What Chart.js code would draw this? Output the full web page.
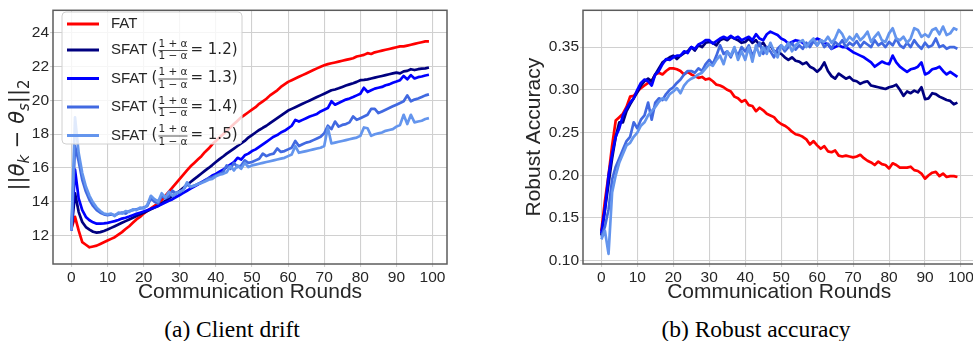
<!DOCTYPE html>
<html>
<head>
<meta charset="utf-8">
<script src="https://cdn.jsdelivr.net/npm/chart.js@4.4.1/dist/chart.umd.min.js"></script>
<style>
html, body { margin: 0; padding: 0; background: #fff; overflow: hidden; width: 973px; height: 341px; }
#drift { position: absolute; left: 0; top: 0; }
#acc { position: absolute; left: 490px; top: 0; }
.cap { position: absolute; top: 318px; width: 220px; text-align: center; font-family: 'Liberation Serif', 'Times New Roman', serif; font-size: 23.5px; line-height: 1; color: #000; white-space: nowrap; }
</style>
</head>
<body>
<canvas id="drift" width="470" height="305"></canvas>
<canvas id="acc" width="500" height="305"></canvas>
<div class="cap" style="left:122px">(a) Client drift</div>
<div class="cap" style="left:646px">(b) Robust accuracy</div>
<script>
// communication rounds 0..99
var rounds = [];
for (var r = 0; r < 100; r++) rounds.push(r);

var seriesNames = ['FAT', 'SFAT 1.2', 'SFAT 1.3', 'SFAT 1.4', 'SFAT 1.5'];
var ratios = [null, 1.2, 1.3, 1.4, 1.5];
var colors = ['#ff0000', '#000080', '#0000ff', '#4169e1', '#6495ed'];

var xTicks = [0, 10, 20, 30, 40, 50, 60, 70, 80, 90, 100];
var driftTicks = [12, 14, 16, 18, 20, 22, 24];
var accTicks = [0.10, 0.15, 0.20, 0.25, 0.30, 0.35];

// (a) client drift ||theta_k - theta_s||_2
var driftFAT = [
  12.4, 13.1, 12.3, 11.6, 11.45, 11.3, 11.35, 11.4, 11.5, 11.6,
  11.7, 11.8, 11.9, 12.05, 12.2, 12.38, 12.55, 12.75, 12.95, 13.1,
  13.3, 13.45, 13.6, 13.75, 13.9, 14.1, 14.35, 14.6, 14.85, 15.1,
  15.35, 15.6, 15.85, 16.1, 16.3, 16.5, 16.7, 16.95, 17.15, 17.4,
  17.6, 17.8, 18.0, 18.2, 18.4, 18.6, 18.8, 19.0, 19.15, 19.3,
  19.45, 19.6, 19.8, 19.95, 20.1, 20.3, 20.45, 20.6, 20.8, 20.95,
  21.1, 21.2, 21.3, 21.4, 21.5, 21.6, 21.7, 21.8, 21.9, 22.0,
  22.08, 22.15, 22.2, 22.25, 22.3, 22.35, 22.4, 22.45, 22.5, 22.6,
  22.65, 22.7, 22.8, 22.75, 22.85, 22.9, 22.95, 23.0, 23.05, 23.1,
  23.15, 23.2, 23.2, 23.25, 23.3, 23.35, 23.4, 23.45, 23.5, 23.5
];
var driftS12 = [
  12.3, 14.5, 13.4, 12.8, 12.5, 12.35, 12.22, 12.17, 12.2, 12.27,
  12.35, 12.45, 12.55, 12.65, 12.75, 12.85, 12.95, 13.05, 13.15, 13.25,
  13.35, 13.45, 13.55, 13.65, 13.75, 13.9, 14.05, 14.2, 14.35, 14.5,
  14.65, 14.82, 15.0, 15.17, 15.34, 15.5, 15.67, 15.84, 16.0, 16.17,
  16.35, 16.52, 16.68, 16.85, 17.0, 17.15, 17.3, 17.45, 17.6, 17.8,
  17.95, 18.1, 18.25, 18.38, 18.5, 18.65, 18.8, 18.95, 19.1, 19.25,
  19.4, 19.5, 19.6, 19.7, 19.8, 19.9, 20.0, 20.1, 20.2, 20.3,
  20.4, 20.5, 20.6, 20.65, 20.72, 20.8, 20.88, 20.95, 21.02, 21.1,
  21.2, 21.22, 21.25, 21.3, 21.35, 21.4, 21.45, 21.5, 21.55, 21.6,
  21.65, 21.6, 21.72, 21.75, 21.85, 21.8, 21.85, 21.88, 21.9, 21.95
];
var driftS13 = [
  12.3, 15.9, 14.2, 13.5, 13.1, 12.9, 12.78, 12.7, 12.7, 12.72,
  12.75, 12.8, 12.85, 12.92, 13.0, 13.05, 13.12, 13.2, 13.28, 13.35,
  13.42, 13.5, 13.58, 13.66, 13.75, 13.85, 13.95, 14.05, 14.15, 14.28,
  14.4, 14.52, 14.65, 14.78, 14.9, 15.02, 15.15, 15.28, 15.4, 15.55,
  15.65, 15.78, 15.9, 16.05, 16.2, 16.35, 16.6, 16.5, 16.75, 16.85,
  17.0, 17.1, 17.25, 17.4, 17.55, 17.7, 17.85, 17.95, 18.1, 18.2,
  18.35, 18.5, 18.85, 18.75, 18.85, 18.95, 19.05, 19.12, 19.2, 19.35,
  19.45, 19.55, 19.95, 19.75, 19.85, 19.95, 20.05, 20.12, 20.2, 20.3,
  20.4, 20.75, 20.5, 20.6, 20.7, 20.75, 20.8, 20.9, 20.95, 21.05,
  21.12, 21.2, 21.45, 21.25, 21.5, 21.3, 21.38, 21.42, 21.48, 21.52
];
var driftS14 = [
  12.3, 17.3, 16.4, 15.3, 14.6, 14.1, 13.75, 13.5, 13.35, 13.25,
  13.2, 13.25, 13.2, 13.3, 13.35, 13.3, 13.45, 13.5, 13.55, 13.6,
  13.65, 13.75, 14.2, 14.0, 13.9, 14.35, 14.2, 14.3, 14.65, 14.5,
  14.55, 14.7, 15.05, 14.85, 14.95, 15.05, 15.15, 15.25, 15.4, 15.45,
  15.55, 15.65, 15.75, 16.15, 15.95, 16.3, 16.05, 16.15, 16.45, 16.3,
  16.35, 16.45, 16.55, 16.85, 16.7, 16.8, 16.85, 17.15, 16.95, 17.0,
  17.1, 17.2, 17.6, 17.3, 17.4, 17.5, 17.55, 17.65, 17.75, 17.85,
  18.05, 18.5, 18.3, 18.75, 18.45, 18.55, 18.6, 18.7, 19.05, 18.85,
  18.95, 19.05, 19.15, 19.5, 19.5, 19.25, 19.35, 19.45, 19.55, 19.65,
  19.75, 19.85, 19.95, 20.3, 19.95, 20.05, 20.12, 20.2, 20.3, 20.36
];
var driftS15 = [
  12.3, 19.0, 16.9, 15.7, 14.9, 14.35, 13.95, 13.65, 13.45, 13.3,
  13.25, 13.3, 13.15, 13.35, 13.3, 13.45, 13.4, 13.55, 13.5, 13.65,
  13.6, 13.8, 14.35, 14.15, 14.0, 14.5, 14.25, 14.6, 14.35, 14.5,
  14.6, 14.7, 15.15, 14.9, 14.95, 15.05, 15.1, 15.2, 15.3, 15.35,
  15.5, 15.6, 15.65, 15.75, 16.1, 15.85, 16.15, 15.95, 16.3, 16.05,
  16.15, 16.2, 16.25, 16.3, 16.35, 16.4, 16.45, 16.5, 16.55, 16.6,
  16.7, 16.8, 17.3, 16.9, 16.95, 17.0, 17.05, 17.1, 17.15, 17.2,
  17.3, 18.4, 17.45, 17.5, 17.55, 17.6, 17.65, 17.7, 17.75, 17.8,
  17.9, 18.4, 18.35, 17.9, 18.0, 18.05, 18.1, 18.2, 18.25, 18.3,
  18.45, 18.55, 19.15, 18.6, 19.15, 18.7, 18.75, 18.8, 18.9, 18.95
];

// (b) robust accuracy
var accFAT = [
  .135, .17, .2, .235, .264, .268, .272, .28, .292, .293,
  .298, .302, .305, .308, .31, .318, .32, .318, .322, .325,
  .325, .324, .322, .318, .321, .318, .316, .314, .315, .312,
  .313, .31, .306, .305, .303, .3, .298, .292, .29, .286,
  .288, .282, .281, .275, .279, .276, .272, .27, .268, .263,
  .26, .258, .255, .251, .248, .247, .245, .242, .236, .24,
  .235, .231, .234, .228, .227, .229, .223, .222, .223, .222,
  .221, .222, .224, .22, .217, .215, .212, .216, .213, .212,
  .208, .214, .212, .209, .209, .209, .21, .206, .205, .202,
  .196, .2, .203, .204, .199, .202, .198, .199, .199, .198
];
var accS12 = [
  .13, .16, .19, .22, .245, .262, .262, .275, .283, .29,
  .297, .305, .31, .313, .31, .318, .325, .332, .335, .338,
  .34, .336, .34, .343, .345, .35, .346, .352, .35, .355,
  .356, .355, .352, .358, .36, .358, .362, .36, .358, .355,
  .356, .36, .355, .358, .352, .355, .348, .352, .345, .344,
  .342, .338, .335, .338, .334, .333, .33, .332, .327, .325,
  .321, .325, .332, .322, .316, .313, .319, .316, .313, .315,
  .311, .31, .307, .309, .31, .305, .304, .303, .302, .301,
  .303, .304, .306, .3, .293, .298, .296, .299, .297, .303,
  .289, .29, .296, .295, .292, .29, .288, .287, .283, .285
];
var accS13 = [
  .132, .16, .2, .225, .245, .255, .27, .278, .285, .29,
  .3, .308, .312, .31, .305, .318, .322, .33, .336, .335,
  .338, .34, .34, .345, .343, .35, .348, .353, .355, .358,
  .358, .354, .357, .36, .362, .36, .363, .36, .362, .358,
  .36, .362, .358, .365, .36, .358, .365, .368, .366, .364,
  .36, .358, .354, .356, .358, .357, .355, .352, .354, .357,
  .36, .358, .355, .353, .348, .35, .352, .35, .35, .347,
  .344, .342, .34, .338, .335, .332, .327, .33, .333, .331,
  .33, .34, .332, .327, .324, .321, .324, .325, .327, .332,
  .318, .32, .324, .325, .327, .322, .318, .321, .318, .315
];
var accS14 = [
  .128, .14, .16, .195, .21, .22, .23, .24, .245, .262,
  .255, .265, .27, .285, .265, .285, .29, .288, .295, .3,
  .303, .308, .312, .318, .322, .322, .32, .325, .322, .33,
  .335, .33, .34, .352, .342, .345, .338, .348, .34, .35,
  .345, .352, .34, .348, .355, .342, .35, .345, .338, .348,
  .352, .345, .35, .355, .347, .352, .348, .355, .35, .357,
  .352, .358, .35, .354, .348, .356, .352, .358, .35, .355,
  .352, .357, .35, .356, .353, .35, .358, .352, .355, .35,
  .356, .352, .36, .352, .349, .355, .35, .358, .352, .348,
  .355, .35, .352, .36, .35, .352, .348, .35, .35, .348
];
var accS15 = [
  .125, .135, .108, .18, .2, .215, .225, .235, .238, .245,
  .25, .258, .262, .27, .275, .28, .286, .29, .288, .295,
  .298, .302, .296, .305, .31, .313, .315, .318, .32, .325,
  .33, .328, .335, .34, .33, .345, .34, .35, .335, .345,
  .335, .35, .333, .352, .34, .35, .342, .355, .345, .338,
  .352, .348, .355, .345, .352, .356, .358, .35, .356, .36,
  .352, .358, .356, .362, .355, .36, .37, .365, .356, .362,
  .358, .365, .358, .362, .368, .356, .362, .367, .358, .356,
  .366, .372, .36, .358, .362, .355, .36, .372, .37, .362,
  .365, .362, .37, .372, .365, .374, .364, .366, .372, .37
];

var textColor = '#262626';
var gridColor = '#d0d0d0';
var tickFont = { family: 'Liberation Sans', size: 15.5 };

function toPoints(vals) {
  return vals.map(function (v, i) { return { x: rounds[i], y: v }; });
}

function makeDatasets(list) {
  return list.map(function (vals, i) {
    return {
      label: seriesNames[i],
      ratio: ratios[i],
      data: toPoints(vals),
      borderColor: colors[i],
      backgroundColor: colors[i],
      borderWidth: 2.7,
      pointRadius: 0,
      tension: 0,
      borderJoinStyle: 'round',
      fill: false
    };
  }).reverse();   // FAT drawn on top, like the original
}

// axes box around the plot
var frame = {
  id: 'frame',
  afterDatasetsDraw: function (chart) {
    var a = chart.chartArea, ctx = chart.ctx;
    ctx.save();
    ctx.strokeStyle = '#5c5c5c';
    ctx.lineWidth = 1.5;
    ctx.strokeRect(a.left, a.top, a.right - a.left, a.bottom - a.top);
    ctx.restore();
  }
};

// y label ||theta_k - theta_s||_2 with real subscripts
var driftLabel = {
  id: 'driftLabel',
  afterDraw: function (chart) {
    var ctx = chart.ctx;
    var parts = [
      { t: '||', f: '21px "DejaVu Sans"', dy: 0 },
      { t: '\u03b8', f: 'italic 21px "DejaVu Sans"', dy: 0 },
      { t: 'k', f: 'italic 15px "DejaVu Sans"', dy: 4.5 },
      { t: ' \u2212 ', f: '21px "DejaVu Sans"', dy: 0 },
      { t: '\u03b8', f: 'italic 21px "DejaVu Sans"', dy: 0 },
      { t: 's', f: 'italic 15px "DejaVu Sans"', dy: 4.5 },
      { t: '||', f: '21px "DejaVu Sans"', dy: 0 },
      { t: '2', f: '15px "DejaVu Sans"', dy: 4.5 }
    ];
    ctx.save();
    var total = 0;
    parts.forEach(function (p) { ctx.font = p.f; p.w = ctx.measureText(p.t).width; total += p.w; });
    ctx.translate(24, 135);
    ctx.rotate(-Math.PI / 2);
    ctx.fillStyle = textColor;
    ctx.textBaseline = 'alphabetic';
    ctx.textAlign = 'left';
    var x = -total / 2;
    parts.forEach(function (p) {
      ctx.font = p.f;
      ctx.fillText(p.t, x, p.dy);
      x += p.w;
    });
    ctx.restore();
  }
};

// legend with the (1+a)/(1-a) fraction
var fracLegend = {
  id: 'fracLegend',
  afterDraw: function (chart) {
    var ctx = chart.ctx;
    var bx = 62, by = 12, bw = 180, bh = 132, rr = 4;
    ctx.save();
    ctx.beginPath();
    ctx.moveTo(bx + rr, by);
    ctx.arcTo(bx + bw, by, bx + bw, by + bh, rr);
    ctx.arcTo(bx + bw, by + bh, bx, by + bh, rr);
    ctx.arcTo(bx, by + bh, bx, by, rr);
    ctx.arcTo(bx, by, bx + bw, by, rr);
    ctx.closePath();
    ctx.fillStyle = 'rgba(255,255,255,0.8)';
    ctx.fill();
    ctx.strokeStyle = '#d0d0d0';
    ctx.lineWidth = 1;
    ctx.stroke();

    var rows = [24, 50, 78.5, 107, 135.5];
    var sets = chart.data.datasets.slice().reverse();
    sets.forEach(function (ds, i) {
      var y = rows[i];
      ctx.strokeStyle = ds.borderColor;
      ctx.lineWidth = 3;
      ctx.beginPath();
      ctx.moveTo(67, y);
      ctx.lineTo(99, y);
      ctx.stroke();

      ctx.fillStyle = textColor;
      ctx.textBaseline = 'middle';
      ctx.textAlign = 'left';
      var x = 111;
      ctx.font = '15px "Liberation Sans"';
      if (ds.ratio == null) {
        ctx.fillText(ds.label, x, y);
        return;
      }
      ctx.fillText('SFAT ', x, y);
      x += ctx.measureText('SFAT ').width;
      ctx.font = '15px "DejaVu Sans"';
      ctx.fillText('(', x, y);
      x += ctx.measureText('(').width + 1;
      ctx.font = '10.5px "DejaVu Sans"';
      var num = '1 + \u03b1', den = '1 \u2212 \u03b1';
      var fw = Math.max(ctx.measureText(num).width, ctx.measureText(den).width);
      ctx.textAlign = 'center';
      ctx.fillText(num, x + fw / 2, y - 6);
      ctx.fillText(den, x + fw / 2, y + 6.5);
      ctx.lineWidth = 0.8;
      ctx.strokeStyle = textColor;
      ctx.beginPath();
      ctx.moveTo(x, y + 0.5);
      ctx.lineTo(x + fw, y + 0.5);
      ctx.stroke();
      x += fw + 3;
      ctx.textAlign = 'left';
      ctx.font = '15px "DejaVu Sans"';
      ctx.fillText('= ' + ds.ratio.toFixed(1) + ')', x, y);
    });
    ctx.restore();
  }
};

function axisOptions(cfg) {
  return {
    x: {
      type: 'linear',
      min: -5.1,
      max: 104,
      afterBuildTicks: function (s) { s.ticks = xTicks.map(function (v) { return { value: v }; }); },
      afterFit: function (s) { s.height = 41; },
      ticks: { font: tickFont, color: textColor, padding: 1, maxRotation: 0, autoSkip: false },
      grid: { color: gridColor, lineWidth: 1.1, tickLength: 3, tickColor: gridColor },
      border: { display: false },
      title: { display: true, text: 'Communication Rounds', color: textColor,
               font: { family: 'Liberation Sans', size: 21 }, padding: 0 }
    },
    y: {
      min: cfg.min,
      max: cfg.max,
      afterBuildTicks: function (s) { s.ticks = cfg.ticks.map(function (v) { return { value: v }; }); },
      afterFit: function (s) { s.width = cfg.width; },
      ticks: { font: tickFont, color: textColor, padding: 1, autoSkip: false, callback: cfg.fmt },
      grid: { color: gridColor, lineWidth: 1.1, tickLength: 3, tickColor: gridColor },
      border: { display: false },
      title: { display: cfg.title !== '', text: cfg.title, color: textColor,
               font: { family: 'Liberation Sans', size: 21 },
               padding: { top: cfg.titlePad, bottom: 0 } }
    }
  };
}

new Chart(document.getElementById('drift'), {
  type: 'line',
  data: { datasets: makeDatasets([driftFAT, driftS12, driftS13, driftS14, driftS15]) },
  options: {
    responsive: false,
    animation: false,
    layout: { padding: { left: 0, right: 23, top: 4, bottom: 0 } },
    plugins: { legend: { display: false }, tooltip: { enabled: false } },
    scales: axisOptions({
      min: 10.31, max: 25.34, ticks: driftTicks, width: 53,
      fmt: function (v) { return String(v); },
      title: '',   // drawn by driftLabel with real subscripts
      titlePad: 0
    })
  },
  plugins: [frame, driftLabel, fracLegend]
});

new Chart(document.getElementById('acc'), {
  type: 'line',
  data: { datasets: makeDatasets([accFAT, accS12, accS13, accS14, accS15]) },
  options: {
    responsive: false,
    animation: false,
    layout: { padding: { left: 0, right: 14.6, top: 4, bottom: 0 } },
    plugins: { legend: { display: false }, tooltip: { enabled: false } },
    scales: axisOptions({
      min: 0.0962, max: 0.393, ticks: accTicks, width: 93,
      fmt: function (v) { return Number(v).toFixed(2); },
      title: 'Robust Accuracy',
      titlePad: 32
    })
  },
  plugins: [frame]
});
</script>
</body>
</html>
